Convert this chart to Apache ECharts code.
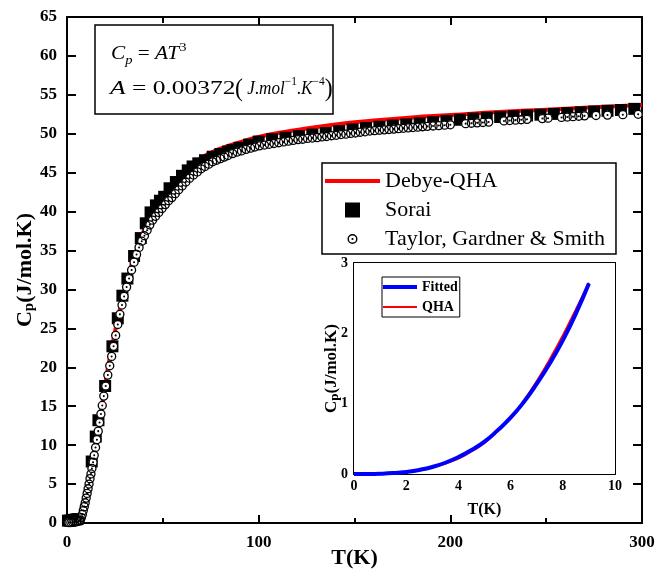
<!DOCTYPE html>
<html><head><meta charset="utf-8">
<script src="https://cdn.jsdelivr.net/npm/echarts@6/dist/echarts.min.js"></script>
<style>html,body{margin:0;padding:0;background:#fff}#c{width:667px;height:570px}</style>
</head><body><div id="c"></div>
<script>
// ---- Main panel data: [T (K), Cp (J/mol.K)] ----
const debyeQHA = [[0,0],[2,0.03],[4,0.24],[6,0.8],[8,1.9],[10,3.6],[12,5.8],[14,8.4],[16,11.2],[18,14.5],[20,18.0],[22,20.8],[24,23.3],[26,25.7],[28,27.9],[30,30.0],[33,32.6],[36,34.9],[40,37.5],[45,40.1],[50,42.1],[55,43.7],[60,45.0],[70,46.9],[80,48.1],[90,48.9],[100,49.6],[110,50.1],[120,50.5],[140,51.2],[160,51.7],[180,52.1],[200,52.4],[225,52.8],[250,53.1],[275,53.4],[300,53.7]];

const sorai = [[0.5,0.3],[1.5,0.3],[2.5,0.35],[3.5,0.4],[4.5,0.45],[5.5,0.5],[12.9,7.9],[15.0,11.1],[16.4,13.2],[19.9,17.6],[23.7,22.7],[26.5,26.3],[28.9,29.2],[31.5,31.4],[35.0,34.3],[38.5,36.6],[41.1,38.5],[43.6,39.9],[46.4,40.8],[48.5,41.4],[50.7,41.9],[53.5,43.0],[56.8,43.8],[60.0,44.6],[63.0,45.3],[65.5,45.8],[68.5,46.2],[72.0,46.6],[76.0,47.05],[80.0,47.4],[84.0,47.7],[86.4,47.9],[90.0,48.2],[95.0,48.6],[100,49.0],[107,49.3],[114,49.5],[121,49.7],[128,49.9],[135,50.1],[142,50.35],[149,50.55],[156,50.75],[163,50.9],[170,51.05],[177,51.2],[184,51.35],[191,51.5],[198,51.65],[205,51.8],[212,51.95],[219,52.05],[226,52.15],[233,52.25],[240,52.35],[247,52.45],[254,52.55],[261,52.65],[268,52.75],[275,52.85],[282,52.95],[289,53.05],[296,53.2]];

const taylorGardnerSmith = [[1,0.05],[2,0.06],[3,0.08],[4,0.12],[5,0.17],[5.8,0.22],[6.5,0.3],[7,0.4],[7.5,0.7],[8,1.1],[8.5,1.6],[9,2.1],[9.5,2.6],[10,3.2],[10.5,3.8],[11,4.4],[11.5,5.0],[12,5.7],[12.5,6.3],[13,7.0],[13.6,7.8],[14.2,8.7],[14.9,9.7],[15.6,10.7],[16.3,11.8],[17,12.9],[17.7,14.0],[18.4,15.1],[19.2,16.3],[20.2,17.6],[21.3,19.0],[22.3,20.2],[23.3,21.4],[24.3,22.7],[25.4,24.1],[26.5,25.5],[27.6,26.8],[28.7,28.0],[29.8,29.1],[31.1,30.3],[32.4,31.4],[33.7,32.5],[35,33.5],[36.3,34.5],[37.6,35.4],[39,36.2],[40.4,36.9],[41.8,37.6],[43.2,38.3],[44.6,38.9],[46.2,39.4],[47.9,39.9],[49.6,40.4],[51.3,40.9],[53,41.4],[54.7,41.8],[56.5,42.3],[58.3,42.8],[60.1,43.3],[62,43.8],[64,44.3],[66,44.7],[68,45.1],[70,45.5],[72,45.8],[74,46.1],[76,46.4],[78,46.6],[80,46.8],[82,47.0],[84,47.2],[86.4,47.45],[88.8,47.65],[91,47.8],[93.4,48.0],[95.8,48.15],[98,48.3],[100.4,48.45],[103,48.55],[105.5,48.65],[108,48.75],[110.5,48.85],[113,48.95],[115.5,49.05],[118,49.15],[120.5,49.25],[123,49.3],[125.5,49.4],[128,49.45],[130.5,49.5],[133,49.6],[135.5,49.65],[138,49.75],[140.5,49.8],[143,49.9],[145.5,49.95],[148,50.05],[150.5,50.1],[153,50.2],[155.5,50.25],[158,50.35],[160.5,50.4],[163,50.45],[165.5,50.5],[168,50.55],[170.5,50.6],[173,50.65],[175.5,50.7],[178,50.75],[180.5,50.8],[183,50.85],[185.5,50.9],[188,50.95],[191,51.0],[194,51.05],[197,51.1],[200,51.15],[208,51.3],[211,51.35],[214,51.4],[217,51.45],[220,51.5],[228,51.65],[231,51.7],[234,51.75],[237,51.8],[240,51.85],[248,51.95],[251,52.0],[258,52.1],[261,52.15],[264,52.2],[267,52.25],[270,52.3],[276,52.35],[282,52.4],[290,52.45],[298,52.5]];

// ---- Inset data: [T (K), Cp (J/mol.K)] ----
const insetFitted = [[0,0],[0.5,0.0005],[1,0.004],[1.5,0.013],[2,0.03],[2.5,0.058],[3,0.10],[3.5,0.16],[4,0.24],[4.5,0.34],[5,0.46],[5.5,0.62],[6,0.80],[6.5,1.02],[7,1.28],[7.5,1.57],[8,1.90],[8.5,2.28],[9,2.71]];
const insetQHA = [[0,0],[1,0.003],[2,0.025],[3,0.09],[4,0.22],[4.5,0.32],[5,0.44],[5.5,0.61],[6,0.80],[6.5,1.04],[7,1.32],[7.5,1.63],[8,1.97],[8.5,2.34],[9,2.72]];

// ---- Tick labels ----
const mainXLabels = [0, 100, 200, 300];
const insetXLabels = [0, 2, 4, 6, 8, 10];
const insetYLabels = [0, 1, 2, 3];

const FONT = 'Liberation Serif';
const ringDot = 'path://M-5,-5h0.01v0.01h-0.01Z M25,25h0.01v0.01h-0.01Z M0,10A10,10 0 1,1 20,10A10,10 0 1,1 0,10Z M2.8,10A7.2,7.2 0 1,0 17.2,10A7.2,7.2 0 1,0 2.8,10Z M7.8,10A2.2,2.2 0 1,1 12.2,10A2.2,2.2 0 1,1 7.8,10Z';

const axLine = {onZero: false, lineStyle: {color: '#000', width: 2}};
const chart = echarts.init(document.getElementById('c'), null, {renderer: 'canvas'});

const option = {
  backgroundColor: '#fff',
  animation: false,
  textStyle: {fontFamily: FONT, color: '#000'},
  grid: [
    {left: 67, top: 17, width: 575, height: 506, outerBoundsMode: 'none'},
    {left: 354, top: 263, width: 261, height: 211, show: true, backgroundColor: '#fff', borderWidth: 0, outerBoundsMode: 'none', z: 5}
  ],
  xAxis: [
    {type: 'value', gridIndex: 0, min: 0, max: 300, interval: 100, position: 'bottom',
     axisLine: axLine, splitLine: {show: false},
     axisTick: {inside: true, length: 8, lineStyle: {width: 2, color: '#000'}},
     minorTick: {show: true, splitNumber: 2, length: 5, lineStyle: {width: 2, color: '#000'}},
     axisLabel: {margin: 11, fontSize: 17, fontWeight: 'bold', fontFamily: FONT, color: '#000',
       formatter: v => mainXLabels.includes(v) ? String(v) : ''},
     name: 'T(K)', nameLocation: 'middle', nameGap: 23, nameMoveOverlap: false,
     nameTextStyle: {fontSize: 22, fontWeight: 'bold', fontFamily: FONT, color: '#000', lineHeight: 24}},
    {type: 'value', gridIndex: 0, min: 0, max: 300, interval: 100, position: 'top',
     axisLine: axLine, splitLine: {show: false}, axisLabel: {show: false},
     axisTick: {inside: true, length: 8, lineStyle: {width: 2, color: '#000'}},
     minorTick: {show: true, splitNumber: 2, length: 6, lineStyle: {width: 2, color: '#000'}}},
    {type: 'value', gridIndex: 1, min: 0, max: 10, interval: 1, position: 'bottom',
     axisLine: axLine, splitLine: {show: false},
     axisTick: {inside: true, length: 4, lineStyle: {width: 1.5, color: '#000'}},
     axisLabel: {margin: 5, fontSize: 14, fontWeight: 'bold', fontFamily: FONT, color: '#000',
       formatter: v => insetXLabels.includes(v) ? String(v) : ''},
     name: 'T(K)', nameLocation: 'middle', nameGap: 27, nameMoveOverlap: false,
     nameTextStyle: {fontSize: 16, fontWeight: 'bold', fontFamily: FONT, color: '#000', lineHeight: 18}},
    {type: 'value', gridIndex: 1, min: 0, max: 10, interval: 1, position: 'top',
     axisLine: axLine, splitLine: {show: false}, axisLabel: {show: false},
     axisTick: {inside: true, length: 4, lineStyle: {width: 1.5, color: '#000'}}}
  ],
  yAxis: [
    {type: 'value', gridIndex: 0, min: 0, max: 65, interval: 5, position: 'left',
     axisLine: axLine, splitLine: {show: false},
     axisTick: {inside: true, length: 9, lineStyle: {width: 2, color: '#000'}},
     axisLabel: {margin: 10, fontSize: 17, fontWeight: 'bold', fontFamily: FONT, color: '#000'},
     name: '{a|C}{s|p}{a|(J/mol.K)}', nameLocation: 'middle', nameGap: 30, nameRotate: 90, nameMoveOverlap: false,
     nameTextStyle: {rich: {
       a: {fontSize: 22, fontWeight: 'bold', fontFamily: FONT, color: '#000', lineHeight: 24},
       s: {fontSize: 15, fontWeight: 'bold', fontFamily: FONT, color: '#000', lineHeight: 15, verticalAlign: 'bottom'}
     }}},
    {type: 'value', gridIndex: 0, min: 0, max: 65, interval: 5, position: 'right',
     axisLine: axLine, splitLine: {show: false}, axisLabel: {show: false},
     axisTick: {inside: true, length: 9, lineStyle: {width: 2, color: '#000'}}},
    {type: 'value', gridIndex: 1, min: 0, max: 3, interval: 0.5, position: 'left',
     axisLine: axLine, splitLine: {show: false},
     axisTick: {inside: true, length: 4, lineStyle: {width: 1.5, color: '#000'}},
     axisLabel: {margin: 6, fontSize: 14, fontWeight: 'bold', fontFamily: FONT, color: '#000',
       formatter: v => insetYLabels.includes(v) ? String(v) : ''},
     name: '{a|C}{s|p}{a|(J/mol.K)}', nameLocation: 'middle', nameGap: 13, nameRotate: 90, nameMoveOverlap: false,
     nameTextStyle: {rich: {
       a: {fontSize: 17, fontWeight: 'bold', fontFamily: FONT, color: '#000', lineHeight: 18},
       s: {fontSize: 13, fontWeight: 'bold', fontFamily: FONT, color: '#000', lineHeight: 13, verticalAlign: 'bottom'}
     }}},
    {type: 'value', gridIndex: 1, min: 0, max: 3, interval: 0.5, position: 'right',
     axisLine: axLine, splitLine: {show: false}, axisLabel: {show: false},
     axisTick: {inside: true, length: 4, lineStyle: {width: 1.5, color: '#000'}}}
  ],
  legend: [
    {orient: 'vertical', left: 322, top: 163, itemWidth: 55, itemHeight: 15, itemGap: 7,
     padding: [7, 11, 4, 3], borderColor: '#000', borderWidth: 1.5, borderRadius: 0, backgroundColor: '#fff',
     symbolKeepAspect: true,
     textStyle: {fontSize: 22, fontFamily: FONT, color: '#000'},
     data: [
       {name: 'Debye-QHA', icon: 'path://M0,0h55v4h-55z'},
       {name: 'Sorai', icon: 'path://M0,0h10v10h-10z'},
       {name: 'Taylor, Gardner & Smith', icon: ringDot}
     ]},
    {orient: 'vertical', left: 382, top: 277, itemWidth: 34, itemHeight: 12, itemGap: 6,
     padding: [3, 2, 3, 1], borderColor: '#000', borderWidth: 1, borderRadius: 0, backgroundColor: '#fff', z: 10,
     symbolKeepAspect: true,
     textStyle: {fontSize: 14, fontWeight: 'bold', fontFamily: FONT, color: '#000'},
     data: [
       {name: 'Fitted', icon: 'path://M0,0h34v4h-34z'},
       {name: 'QHA', icon: 'path://M0,0h34v2h-34z'}
     ]}
  ],
  graphic: [
    {type: 'rect', shape: {x: 95, y: 25, width: 238, height: 89}, style: {fill: 'none', stroke: '#000', lineWidth: 1.5}},
    {type: 'text', x: 111, y: 54, scaleX: 1.12,
     style: {text: '{i|C}{sub|p}{n| = }{i|AT}{sup|3}', align: 'left', verticalAlign: 'middle', fill: '#000',
       rich: {
         i: {fontSize: 19, fontStyle: 'italic', fontFamily: FONT, lineHeight: 26, fill: '#000'},
         n: {fontSize: 19, fontFamily: FONT, lineHeight: 26, fill: '#000'},
         sub: {fontSize: 13, fontStyle: 'italic', fontFamily: FONT, lineHeight: 13, verticalAlign: 'bottom', fill: '#000'},
         sup: {fontSize: 13, fontFamily: FONT, lineHeight: 13, verticalAlign: 'top', fill: '#000'}
       }}},
    {type: 'text', x: 110, y: 89, scaleX: 1.34,
     style: {text: '{i|A}{n| = 0.00372}', align: 'left', verticalAlign: 'middle', fill: '#000',
       rich: {
         i: {fontSize: 19, fontStyle: 'italic', fontFamily: FONT, lineHeight: 26, fill: '#000'},
         n: {fontSize: 19, fontFamily: FONT, lineHeight: 26, fill: '#000'}
       }}},
    {type: 'text', x: 235, y: 89, scaleX: 0.95,
     style: {text: '{b|(}{i| J}{n|.}{i|mol}{sup|−1}{n|.}{i|K}{sup|−4}{b|)}', align: 'left', verticalAlign: 'middle', fill: '#000',
       rich: {
         i: {fontSize: 18, fontStyle: 'italic', fontFamily: FONT, lineHeight: 26, fill: '#000'},
         n: {fontSize: 18, fontFamily: FONT, lineHeight: 26, fill: '#000'},
         b: {fontSize: 25, fontFamily: FONT, lineHeight: 26, fill: '#000'},
         sup: {fontSize: 12, fontFamily: FONT, lineHeight: 12, verticalAlign: 'top', fill: '#000'}
       }}}
  ],
  series: [
    {name: 'Debye-QHA', type: 'line', xAxisIndex: 0, yAxisIndex: 0, data: debyeQHA, smooth: true,
     symbol: 'none', lineStyle: {color: '#ff0000', width: 4}, itemStyle: {color: '#ff0000'}, z: 2},
    {name: 'Sorai', type: 'scatter', xAxisIndex: 0, yAxisIndex: 0, data: sorai, symbol: 'rect', symbolSize: 12,
     itemStyle: {color: '#000', opacity: 1}, z: 3},
    {name: 'tgs-fill', type: 'scatter', xAxisIndex: 0, yAxisIndex: 0, data: taylorGardnerSmith, symbol: 'circle', symbolSize: 8.5,
     itemStyle: {color: '#fff', opacity: 1}, z: 4, silent: true},
    {name: 'Taylor, Gardner & Smith', type: 'scatter', xAxisIndex: 0, yAxisIndex: 0, data: taylorGardnerSmith,
     symbol: ringDot, symbolSize: 14, itemStyle: {color: '#000', opacity: 1}, z: 5},
    {name: 'QHA', type: 'line', xAxisIndex: 2, yAxisIndex: 2, data: insetQHA, smooth: true, symbol: 'none',
     lineStyle: {color: '#ff0000', width: 2}, itemStyle: {color: '#ff0000'}, z: 6},
    {name: 'Fitted', type: 'line', xAxisIndex: 2, yAxisIndex: 2, data: insetFitted, smooth: true, symbol: 'none',
     lineStyle: {color: '#0000ff', width: 4}, itemStyle: {color: '#0000ff'}, z: 6}
  ]
};
chart.setOption(option);
</script></body></html>
